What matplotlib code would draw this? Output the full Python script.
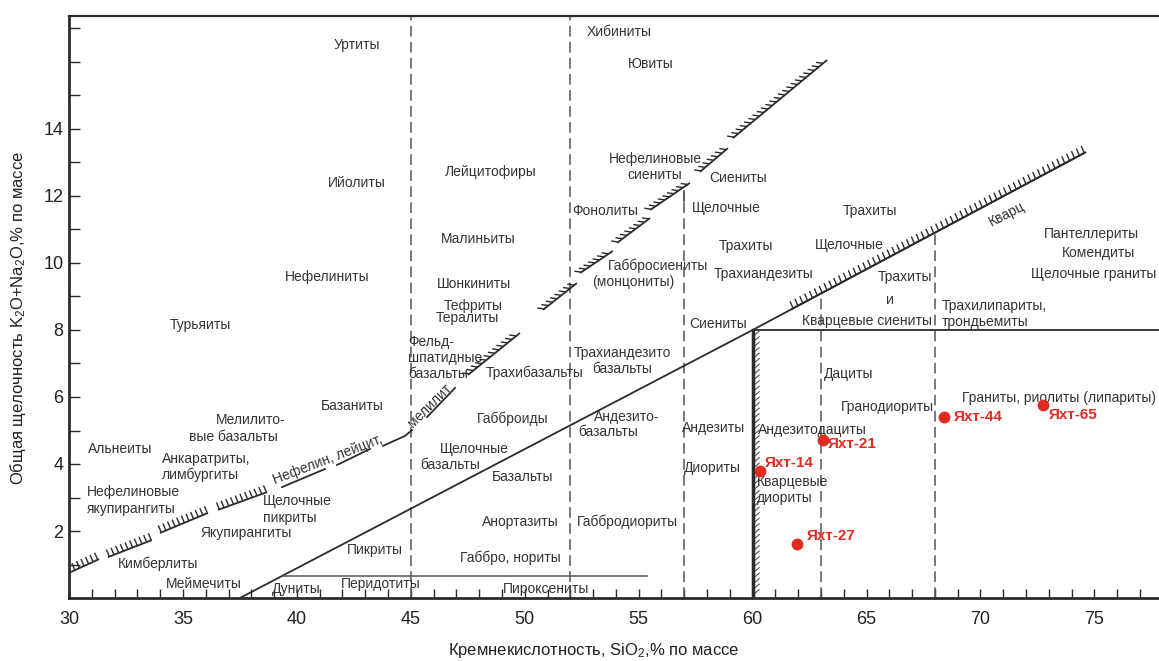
import numpy as np
import matplotlib
matplotlib.use('Agg')
import matplotlib.pyplot as plt
from matplotlib.collections import LineCollection

plt.rcParams['font.family'] = ['Liberation Sans', 'DejaVu Sans']
plt.rcParams['mathtext.fontset'] = 'custom'
plt.rcParams['mathtext.rm'] = 'Liberation Sans'
plt.rcParams['mathtext.it'] = 'Liberation Sans:italic'

# ---------------- data ----------------
sample_names = ['Яхт-14', 'Яхт-21', 'Яхт-27', 'Яхт-44', 'Яхт-65']
sample_sio2 = [60.33, 63.09, 61.95, 68.40, 72.75]
sample_alk = [3.79, 4.72, 1.61, 5.40, 5.76]

# main alkaline / subalkaline boundary (continues as the "Кварц" line)
border_x = [37.5, 60.0, 74.6]
border_y = [0.0, 8.0, 13.3]
quartz_hatch_x = [61.7, 74.6]

# boundaries
vert_solid_x = 60.0
vert_solid_top = 8.0
horiz_y = 8.0
ultra_y = 0.67
ultra_x = [39.38, 55.37]

dashed_x = [45, 52, 57, 63, 68]
dashed_top = [17.4, 17.4, 11.85, 9.09, 10.9]

# lower-left hatched segments (nepheline-bearing boundary)
low_hatch_segs = [
    ([30.0, 31.32], [0.75, 1.16]),
    ([31.71, 33.64], [1.22, 1.73]),
    ([33.99, 36.10], [1.94, 2.54]),
    ([36.54, 38.69], [2.63, 3.16]),
]
# "Нефелин, лейцит, мелилит" plain segments
plain_segs = [
    ([39.35, 41.23], [3.31, 3.85]),
    ([41.76, 43.21], [3.97, 4.45]),
    ([43.78, 44.75, 45.05], [4.54, 4.84, 5.01]),
    ([45.71, 46.94], [5.40, 6.27]),
]
# steep upper hatched segments
steep_hatch_segs = [
    ([47.51, 49.79], [6.66, 7.91]),
    ([50.80, 52.29], [8.60, 9.40]),
    ([52.43, 53.87], [9.70, 10.36]),
    ([54.05, 55.50], [10.60, 11.34]),
    ([55.50, 57.25], [11.58, 12.39]),
    ([57.69, 58.92], [12.72, 13.43]),
    ([59.14, 63.27], [13.73, 16.06]),
]

# field names (centered)
center_labels = [
    ('Уртиты', 42.64, 16.51), ('Ийолиты', 42.64, 12.39), ('Нефелиниты', 41.32, 9.58),
    ('Турьяиты', 35.75, 8.15), ('Хибиниты', 54.14, 16.90), ('Ювиты', 55.54, 15.94),
    ('Лейцитофиры', 48.52, 12.72), ('Нефелиновые\nсиениты', 55.72, 12.87),
    ('Сиениты', 59.36, 12.54), ('Фонолиты', 53.52, 11.55), ('Щелочные', 58.83, 11.64),
    ('Трахиты', 65.15, 11.55), ('Малиньиты', 47.95, 10.72), ('Трахиты', 59.71, 10.51),
    ('Щелочные', 64.23, 10.54), ('Габбросиениты', 55.85, 9.91), ('(монцониты)', 54.75, 9.43),
    ('Трахиандезиты', 60.50, 9.67), ('Шонкиниты', 47.77, 9.37), ('Тефриты', 47.73, 8.72),
    ('Тералиты', 47.47, 8.36), ('Сиениты', 58.48, 8.18), ('Кварцевые сиениты', 65.02, 8.27),
    ('Трахиты', 66.69, 9.58), ('и', 66.03, 8.90), ('Пантеллериты', 74.85, 10.87),
    ('Комендиты', 75.20, 10.30), ('Щелочные граниты', 74.98, 9.67), ('Дациты', 64.23, 6.69),
    ('Гранодиориты', 65.94, 5.70), ('Граниты, риолиты (липариты)', 73.45, 5.97),
    ('Андезитодациты', 62.61, 5.01), ('Андезиты', 58.31, 5.07), ('Диориты', 58.22, 3.88),
    ('Трахиандезито\nбазальты', 54.27, 7.07), ('Трахибазальты', 50.45, 6.72),
    ('Габброиды', 49.49, 5.34), ('Андезито-', 54.49, 5.40), ('базальты', 53.65, 4.96),
    ('Щелочные', 47.77, 4.45), ('базальты', 46.72, 3.97), ('Базальты', 49.92, 3.61),
    ('Анортазиты', 49.79, 2.27), ('Габбродиориты', 54.49, 2.27), ('Габбро, нориты', 49.35, 1.19),
    ('Пироксениты', 50.93, 0.27), ('Перидотиты', 43.69, 0.42), ('Дуниты', 39.96, 0.27),
    ('Меймечиты', 35.92, 0.42), ('Кимберлиты', 33.91, 1.01), ('Пикриты', 43.43, 1.43),
    ('Якупирангиты', 37.77, 1.94), ('Альнеиты', 32.24, 4.45), ('Мелилито-', 37.99, 5.31),
    ('вые базальты', 37.20, 4.81), ('Базаниты', 42.42, 5.73),
]
# field names (left aligned blocks)
left_labels = [
    ('Трахилипариты,\nтрондьемиты', 68.31, 8.48),
    ('Кварцевые\nдиориты', 60.19, 3.22),
    ('Фельд-\nшпатидные\nбазальты', 44.88, 7.16),
    ('Щелочные\nпикриты', 38.51, 2.64),
    ('Нефелиновые\nякупирангиты', 30.79, 2.91),
    ('Анкаратриты,\nлимбургиты', 34.08, 3.91),
]
# rotated names along boundaries
rotated_labels = [
    ('Кварц', 71.17, 11.46, 27),
    ('Нефелин, лейцит,', 41.37, 4.12, 21),
    ('мелилит', 45.84, 5.73, 45),
]

x_major = list(range(30, 76, 5))
x_minor = list(range(31, 78))
y_major = [2, 4, 6, 8, 10, 12, 14]
y_minor = [1, 3, 5, 7, 9, 11, 13, 15, 16, 17]

# ---------------- figure ----------------
W, H = 1159, 661
fig = plt.figure(figsize=(W / 100, H / 100), dpi=100)
ax = fig.add_axes([69 / W, 63 / H, 1 - 69 / W, (598 - 16) / H])
ax.set_xlim(30, 30 + 1090 / 22.786)
ax.set_ylim(0, 582 / 33.5)

ink = '#2b2b2b'
txt = '#333333'
red = '#e02b22'

for s in ['left', 'bottom']:
    ax.spines[s].set_linewidth(2.0)
    ax.spines[s].set_color(ink)
ax.spines['top'].set_linewidth(1.6)
ax.spines['top'].set_color(ink)
ax.spines['right'].set_visible(False)

ax.set_xticks(x_major)
ax.set_xticks(x_minor, minor=True)
ax.set_yticks(y_major)
ax.set_yticks(y_minor, minor=True)
ax.tick_params(axis='x', which='both', direction='in', length=6.5, width=1.0,
               color=ink, labelsize=13, labelcolor='#222222', pad=9, top=False)
ax.tick_params(axis='y', which='both', direction='in', length=8, width=1.0,
               color=ink, labelsize=13, labelcolor='#222222', pad=4, right=False)

fig.canvas.draw()


def hatch_line(xs, ys, vec, step, lw=1.1, tick_lw=1.0, color=ink, offset=2.0):
    ax.plot(xs, ys, color=color, lw=lw, solid_capstyle='butt')
    pts = ax.transData.transform(np.column_stack([xs, ys]))
    segs = []
    v = np.array(vec, dtype=float)
    for p0, p1 in zip(pts[:-1], pts[1:]):
        d = p1 - p0
        L = np.hypot(*d)
        s = offset
        while s <= L - 0.5:
            b = p0 + d * (s / L)
            segs.append([b, b + v])
            s += step
    inv = ax.transData.inverted()
    segs = [inv.transform(np.array(sg)) for sg in segs]
    ax.add_collection(LineCollection(segs, colors=color, linewidths=tick_lw))


# dashed vertical boundaries
for xv, top in zip(dashed_x, dashed_top):
    ax.plot([xv, xv], [0, top], color='#555555', lw=1.1, ls=(0, (7, 3.5)))
ax.plot([dashed_x[2], dashed_x[2]], [dashed_top[2], 12.15], color=ink, lw=1.1)

# main diagonal boundary
ax.plot(border_x, border_y, color=ink, lw=1.3)
qx = np.array(quartz_hatch_x)
qy = np.interp(qx, border_x, border_y)
hatch_line(qx, qy, (-3, 7), 5.5, lw=1.3)

# y = 8 horizontal and x = 60 vertical
ax.plot([vert_solid_x, ax.get_xlim()[1]], [horiz_y, horiz_y], color=ink, lw=1.3)
hatch_line([vert_solid_x, vert_solid_x], [0.05, vert_solid_top - 0.05], (7, 6), 5.5,
           lw=2.4, tick_lw=0.8, color='#555555', offset=1.0)
ax.plot([vert_solid_x, vert_solid_x], [0, vert_solid_top], color=ink, lw=2.4)

# ultrabasic lower horizontal
ax.plot(ultra_x, [ultra_y, ultra_y], color='#555555', lw=1.1)

# lower-left hatched segments
for xs, ys in low_hatch_segs:
    hatch_line(xs, ys, (-3, 7), 5.0, lw=1.3, offset=1.5)
for xs, ys in plain_segs:
    ax.plot(xs, ys, color=ink, lw=1.3)
for xs, ys in steep_hatch_segs:
    hatch_line(xs, ys, (-7, 1), 5.5, lw=1.3, offset=1.5)

# labels
for t, x, y in center_labels:
    ax.text(x, y, t, ha='center', va='center', fontsize=10, color=txt, multialignment='center')
for t, x, y in left_labels:
    ax.text(x, y, t, ha='left', va='center', fontsize=10, color=txt, multialignment='left')
for t, x, y, r in rotated_labels:
    ax.text(x, y, t, ha='center', va='center', fontsize=10, color=txt, rotation=r,
            rotation_mode='anchor')

# samples
ax.plot(sample_sio2, sample_alk, 'o', color=red, markersize=7.5, zorder=5)
label_offsets_px = [(5, 8), (5, -4), (10, 8), (10, 0), (6, -10)]
for n, x, y, off in zip(sample_names, sample_sio2, sample_alk, label_offsets_px):
    ax.annotate(n, (x, y), xytext=off, textcoords='offset pixels', ha='left', va='center',
                fontsize=11, fontweight='bold', color=red, zorder=6)

# axis titles
fig.text(18 / W, 1 - 318 / H, 'Общая щелочность K$_2$O+Na$_2$O,% по массе', rotation=90,
         ha='center', va='center', fontsize=12, color='#222222')
fig.text(594 / W, 1 - 655 / H, 'Кремнекислотность, SiO$_2$,% по массе', ha='center',
         va='baseline', fontsize=12, color='#222222')

fig.savefig('out.png', dpi=100)
